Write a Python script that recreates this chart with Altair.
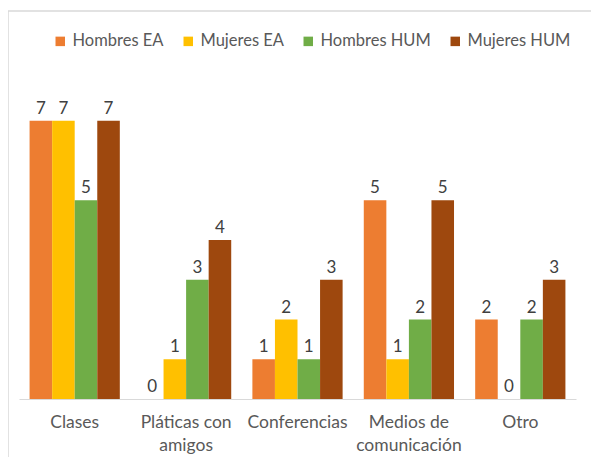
import altair as alt
import pandas as pd

categories = ["Clases", "Pláticas con amigos", "Conferencias", "Medios de comunicación", "Otro"]
series = ["Hombres EA", "Mujeres EA", "Hombres HUM", "Mujeres HUM"]
hombres_ea = [7, 0, 1, 5, 2]
mujeres_ea = [7, 1, 2, 1, 0]
hombres_hum = [5, 3, 1, 2, 2]
mujeres_hum = [7, 4, 3, 5, 3]
colors = ["#ED7D31", "#FFC000", "#70AD47", "#9E480E"]

rows = []
for s, vals in zip(series, [hombres_ea, mujeres_ea, hombres_hum, mujeres_hum]):
    for c, v in zip(categories, vals):
        rows.append({"cat": c, "serie": s, "valor": v})
df = pd.DataFrame(rows)

FONT = "Lato"

x = alt.X("cat:N", sort=categories, title=None,
          scale=alt.Scale(paddingInner=0.19, paddingOuter=0.095),
          axis=alt.Axis(labelAngle=0, labelFontSize=17.5, labelColor="#595959", labelFont=FONT,
                        ticks=False, domainColor="#d9d9d9", domainWidth=1.2, labelPadding=14,
                        labelLineHeight=23,
                        labelExpr="datum.label == 'Pláticas con amigos' ? ['Pláticas con','amigos'] : datum.label == 'Medios de comunicación' ? ['Medios de','comunicación'] : datum.label"))
xo = alt.XOffset("serie:N", sort=series)
y = alt.Y("valor:Q", scale=alt.Scale(domain=[0, 8]), axis=None)

base = alt.Chart(df)
bars = base.mark_bar().encode(
    x=x, xOffset=xo, y=y,
    color=alt.Color("serie:N", scale=alt.Scale(domain=series, range=colors),
                    legend=alt.Legend(title=None, orient="none", legendX=33, legendY=-48,
                                      direction="horizontal", symbolType="square", symbolSize=90,
                                      labelFontSize=16.5, labelColor="#595959", labelFont=FONT,
                                      columnPadding=16, symbolStrokeWidth=0, labelOffset=4)),
)
labels = base.mark_text(dy=-12, fontSize=17, color="#404040", font=FONT).encode(
    x=x, xOffset=xo, y=y, text="valor:Q"
)
border = alt.Chart(pd.DataFrame({"a": [0]})).mark_rect(
    fill=None, stroke="#d9d9d9", strokeWidth=1.5
).encode(x=alt.value(-11), x2=alt.value(700), y=alt.value(-70), y2=alt.value(500))

chart = alt.layer(border, bars, labels).properties(
    width=557, height=318,
    padding={"left": 11, "top": 73, "right": 15, "bottom": 58},
    autosize=alt.AutoSizeParams(type="none"),
).configure_view(stroke=None)

chart.save("out.html", embed_options={"renderer": "svg", "actions": False})
